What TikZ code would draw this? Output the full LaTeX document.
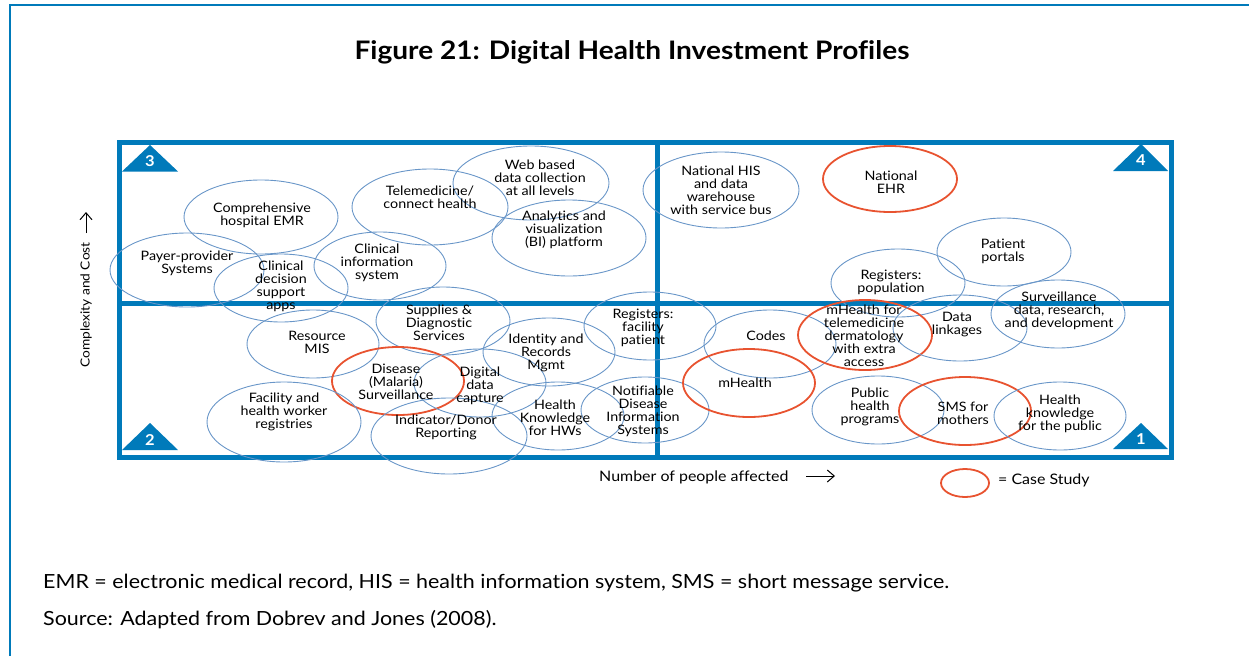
\documentclass[tikz,border=0pt]{standalone}
\usepackage{fontspec}
\setmainfont{Lato}[FakeStretch=1.1,Ligatures=NoCommon]
\usetikzlibrary{arrows.meta,shapes.geometric}
\definecolor{frameblue}{RGB}{0,122,186}
\definecolor{ellblue}{RGB}{105,150,200}
\definecolor{casered}{RGB}{232,83,48}
\begin{document}
\begin{tikzpicture}[x=1pt,y=-1pt,
  ell/.style={draw=ellblue, line width=0.9pt, ellipse, inner sep=0pt},
  cell/.style={draw=casered, line width=1.8pt, ellipse, inner sep=0pt},
  lbl/.style={align=center, font=\fontsize{13}{13}\selectfont, inner sep=0pt, text=black},
  num/.style={font=\bfseries\fontsize{15}{15}\selectfont, text=white, inner sep=0pt},
  tri/.style={fill=frameblue, draw=none},
  frame/.style={draw=frameblue, line width=5pt},
  axis/.style={font=\fontsize{14.5}{14.5}\selectfont, inner sep=0pt},
  axarrow/.style={-{Straight Barb[length=7pt,width=12pt]}, line width=1pt}
  ]
\useasboundingbox (0,0) rectangle (1249,656);
% outer border
\draw[frameblue, line width=1.5pt] (10,656) -- (10,5) -- (1249,5);
% title
\node[font=\bfseries\fontsize{25.5}{27}\selectfont] (title) at (632,52) {Figure 21: Digital Health Investment Profiles};
% frame
\draw[frame] (119.5,142.5) rectangle (1171,457);
\draw[frame] (657,142.5) -- (657,457);
\draw[frame] (119.5,303) -- (1171,303);
% triangles
\fill[tri] (150,145) -- (178,171.5) -- (122,171.5) -- cycle;
\node[num] (n3) at (150,161) {3};
\fill[tri] (1141,144) -- (1168,171) -- (1113,171) -- cycle;
\node[num] (n4) at (1141,160) {4};
\fill[tri] (150,423) -- (178,450) -- (122,450) -- cycle;
\node[num] (n2) at (150,440) {2};
\fill[tri] (1141,423) -- (1168,449) -- (1113,449) -- cycle;
\node[num] (n1) at (1141,439) {1};
% ellipses top-left
\node[ell, minimum width=154pt, minimum height=74pt] (comp) at (261,217) {};
\node[ell, minimum width=154pt, minimum height=74pt] (payer) at (187,270) {};
\node[ell, minimum width=134pt, minimum height=68pt] (cdss) at (281,288) {};
\node[ell, minimum width=132pt, minimum height=68pt] (cis) at (380,266) {};
\node[ell, minimum width=156pt, minimum height=76pt] (tele) at (430,207) {};
\node[ell, minimum width=156pt, minimum height=74pt] (web) at (531,183) {};
\node[ell, minimum width=154pt, minimum height=76pt] (anal) at (569,238) {};
% top-right
\node[ell, minimum width=156pt, minimum height=76pt] (nhis) at (721,190) {};
\node[cell, minimum width=134pt, minimum height=66pt] (nehr) at (890,179) {};
\node[ell, minimum width=134pt, minimum height=68pt] (pp) at (1004,252) {};
\node[ell, minimum width=134pt, minimum height=68pt] (regpop) at (898,283) {};
\node[ell, minimum width=134pt, minimum height=68pt] (surv) at (1058,314) {};
% bottom-left
\node[ell, minimum width=132pt, minimum height=68pt] (res) at (313,344) {};
\node[ell, minimum width=134pt, minimum height=68pt] (sup) at (443,321) {};
\node[ell, minimum width=132pt, minimum height=68pt] (idr) at (549,352) {};
\node[ell, minimum width=132pt, minimum height=68pt] (regfac) at (650,326) {};
\node[cell, minimum width=132pt, minimum height=68pt] (dis) at (398,381) {};
\node[ell, minimum width=132pt, minimum height=68pt] (ddc) at (480,383) {};
\node[ell, minimum width=154pt, minimum height=80pt] (fac) at (284,422) {};
\node[ell, minimum width=156pt, minimum height=76pt] (ind) at (449,436) {};
\node[ell, minimum width=132pt, minimum height=68pt] (hkhw) at (558,416) {};
\node[ell, minimum width=128pt, minimum height=66pt] (ndis) at (645,410) {};
% bottom-right
\node[ell, minimum width=132pt, minimum height=68pt] (codes) at (770,344) {};
\node[cell, minimum width=134pt, minimum height=70pt] (mtele) at (865,335) {};
\node[ell, minimum width=134pt, minimum height=66pt] (dl) at (960,328) {};
\node[cell, minimum width=132pt, minimum height=68pt] (mh) at (749,383) {};
\node[ell, minimum width=132pt, minimum height=68pt] (php) at (878,410) {};
\node[cell, minimum width=132pt, minimum height=68pt] (sms) at (965,411) {};
\node[ell, minimum width=132pt, minimum height=68pt] (hkp) at (1060,416) {};
% labels
\node[lbl] (tcomp) at (262,215) {Comprehensive\\hospital EMR};
\node[lbl] (tpayer) at (187,263) {Payer-provider\\Systems};
\node[lbl] (tcdss) at (281,286) {Clinical\\decision\\support\\apps};
\node[lbl] (tcis) at (377,263) {Clinical\\information\\system};
\node[lbl] (ttele) at (430,197) {Telemedicine/\\connect health};
\node[lbl] (tweb) at (540,178) {Web based\\data collection\\at all levels};
\node[lbl] (tanal) at (564,230) {Analytics and\\visualization\\(BI) platform};
\node[lbl] (tnhis) at (721,190) {National HIS\\and data\\warehouse\\with service bus};
\node[lbl] (tnehr) at (891,182) {National\\EHR};
\node[lbl] (tpp) at (1003,251) {Patient\\portals};
\node[lbl] (tregpop) at (891,282) {Registers:\\population};
\node[lbl] (tsurv) at (1059,311) {Surveillance\\data, research,\\and development};
\node[lbl] (tres) at (317,342) {Resource\\MIS};
\node[lbl] (tsup) at (439,323) {Supplies \&\\Diagnostic\\Services};
\node[lbl] (tidr) at (546,353) {Identity and\\Records\\Mgmt};
\node[lbl] (tregfac) at (643,328) {Registers:\\facility\\patient};
\node[lbl] (tdis) at (396,382) {Disease\\(Malaria)\\Surveillance};
\node[lbl] (tddc) at (480,386) {Digital\\data\\capture};
\node[lbl] (tfac) at (284,412) {Facility and\\health worker\\registries};
\node[lbl] (tind) at (446,427) {Indicator/Donor\\Reporting};
\node[lbl] (thkhw) at (555,418) {Health\\Knowledge\\for HWs};
\node[lbl] (tndis) at (643,411) {Notifiable\\Disease\\Information\\Systems};
\node[lbl] (tcodes) at (766,336) {Codes};
\node[lbl] (tmtele) at (864,336) {mHealth for\\telemedicine\\dermatology\\with extra\\access};
\node[lbl] (tdl) at (957,325) {Data\\linkages};
\node[lbl] (tmh) at (745,383) {mHealth};
\node[lbl] (tphp) at (870,407) {Public\\health\\programs};
\node[lbl] (tsms) at (963,413) {SMS for\\mothers};
\node[lbl] (thkp) at (1060,414) {Health\\knowledge\\for the public};
% axes
\node[axis, anchor=west] (xlab) at (599,477) {Number of people affected};
\coordinate (xa0) at (806,476);
\coordinate (xa1) at (835,476);
\draw[axarrow] (xa0) -- (xa1);
\node[font=\fontsize{12.5}{12.5}\selectfont, inner sep=0pt, rotate=90] (ylab) at (86,305) {Complexity and Cost};
\coordinate (ya0) at (86,233);
\coordinate (ya1) at (86,212);
\draw[axarrow] (ya0) -- (ya1);
% legend
\node[cell, minimum width=48pt, minimum height=28pt] (leg) at (965,483) {};
\node[axis, anchor=west] (legt) at (998,480) {= Case Study};
% footnotes
\node[anchor=west, font=\fontsize{19.5}{19.5}\selectfont, inner sep=0pt] (foot1) at (43,583) {EMR = electronic medical record, HIS = health information system, SMS = short message service.};
\node[anchor=west, font=\fontsize{19.5}{19.5}\selectfont, inner sep=0pt] (foot2) at (43,620) {Source: Adapted from Dobrev and Jones (2008).};
\end{tikzpicture}
\end{document}
